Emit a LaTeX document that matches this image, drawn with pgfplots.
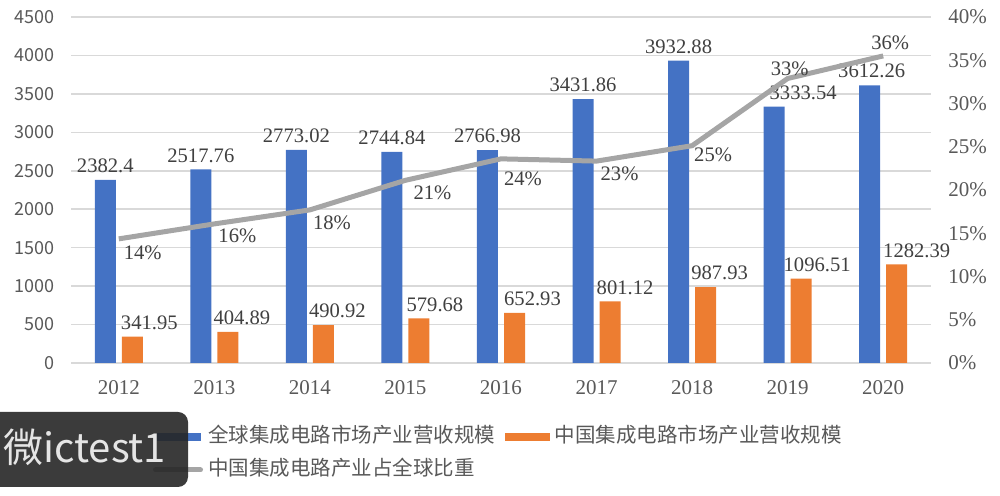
\documentclass[border=0pt]{standalone}
\usepackage{pgfplots}
\usepackage{pgfplotstable}
\pgfplotsset{compat=1.18}
\usepackage{fontspec}
\setmainfont{Liberation Serif}
\newfontfamily\cjk{Noto Sans CJK SC}
\definecolor{cblue}{HTML}{4472C4}
\definecolor{corange}{HTML}{ED7D31}
\definecolor{cgray}{HTML}{A5A5A5}
\definecolor{cgrid}{HTML}{D9D9D9}
\definecolor{ctick}{HTML}{595959}
\definecolor{clab}{HTML}{404040}

\pgfplotstableread{
x y lab dx
0 2382.4 2382.4 -6.75
1 2517.76 2517.76 -6.75
2 2773.02 2773.02 -6.75
3 2744.84 2744.84 -6.75
4 2766.98 2766.98 -6.75
5 3431.86 3431.86 -6.75
6 3932.88 3932.88 -6.75
7 3333.54 3333.54 7.75
8 3612.26 3612.26 -5.75
}\globaldata

\pgfplotstableread{
x y lab dx
0 341.95 341.95 15.25
1 404.89 404.89 13.75
2 490.92 490.92 13.75
3 579.68 579.68 14.75
4 652.93 652.93 15.75
5 801.12 801.12 14.25
6 987.93 987.93 13.75
7 1096.51 1096.51 14.75
8 1282.39 1282.39 16.75
}\chinadata

\pgfplotstableread{
x y lab dx dy
0 14.35 14\% 12 -7
1 16.08 16\% 11.5 -6
2 17.70 18\% 11 -6.5
3 21.12 21\% 13.5 -6
4 23.60 24\% 11 -10
5 23.34 23\% 11.5 -6.5
6 25.12 25\% 10.5 -4.5
7 32.89 33\% 1 5
8 35.50 36\% 3.5 6.5
}\sharedata

\begin{document}
\begin{tikzpicture}
\useasboundingbox (0,0) rectangle (500pt,248pt);
\begin{axis}[
  at={(35.5pt,66.5pt)}, anchor=south west,
  scale only axis, width=430pt, height=173pt,
  xmin=-0.5, xmax=8.5, ymin=0, ymax=4500,
  axis line style={draw=none},
  major tick length=0pt,
  ymajorgrids, grid style={cgrid, line width=0.75pt},
  ytick={0,500,1000,1500,2000,2500,3000,3500,4000,4500},
  yticklabels={0,500,1000,1500,2000,2500,3000,3500,4000,4500},
  yticklabel style={font=\cjk\fontsize{9}{10}\selectfont, text=ctick, inner sep=0pt, xshift=-8pt},
  xtick={0,1,2,3,4,5,6,7,8},
  xticklabels={2012,2013,2014,2015,2016,2017,2018,2019,2020},
  xticklabel style={font=\fontsize{10.5}{12}\selectfont, text=ctick, inner sep=0pt, yshift=-8.5pt},
  clip=false,
]
\addplot[ybar, bar width=10.5pt, bar shift=-6.75pt, fill=cblue, draw=none,
  nodes near coords, point meta=explicit symbolic,
  visualization depends on={\thisrow{dx} \as \dx},
  every node near coord/.append style={font=\fontsize{10.3}{12}\selectfont, text=clab, xshift=\dx pt}]
  table[x=x, y=y, meta=lab] {\globaldata};
\addplot[ybar, bar width=10.5pt, bar shift=6.75pt, fill=corange, draw=none,
  nodes near coords, point meta=explicit symbolic,
  visualization depends on={\thisrow{dx} \as \dx},
  every node near coord/.append style={font=\fontsize{10.3}{12}\selectfont, text=clab, xshift=\dx pt}]
  table[x=x, y=y, meta=lab] {\chinadata};
\end{axis}
\begin{axis}[
  at={(35.5pt,66.5pt)}, anchor=south west,
  scale only axis, width=430pt, height=173pt,
  xmin=-0.5, xmax=8.5, ymin=0, ymax=40,
  axis line style={draw=none},
  major tick length=0pt,
  xtick=\empty,
  ytick={0,5,10,15,20,25,30,35,40},
  yticklabels={0\%,5\%,10\%,15\%,20\%,25\%,30\%,35\%,40\%},
  yticklabel pos=right,
  yticklabel style={anchor=west, font=\fontsize{10.5}{12}\selectfont, text=ctick, inner sep=0pt, xshift=8.5pt},
  clip=false,
  legend columns=2,
  legend cell align=left,
  legend style={at={(0.09535,-0.18497)}, anchor=north west, draw=none, fill=none,
    inner sep=0pt, outer sep=0pt,
    font=\cjk\fontsize{10.25}{12}\selectfont, text=ctick, row sep=6.5pt,
    nodes={inner sep=0pt, text height=8pt, text depth=2pt},
    /tikz/every odd column/.append style={column sep=2.5pt},
    /tikz/every even column/.append style={column sep=5pt}},
]
\addlegendimage{legend image code/.code={\fill[cblue] (2pt,-1.9pt) rectangle (23.5pt,1.9pt);}}
\addlegendentry{全球集成电路市场产业营收规模}
\addlegendimage{legend image code/.code={\fill[corange] (0pt,-1.75pt) rectangle (22pt,1.75pt);}}
\addlegendentry{中国集成电路市场产业营收规模}
\addplot[cgray, line width=2.5pt, line join=round, mark=none,
  legend image code/.code={\draw[cgray, line width=2.5pt, line cap=round] (1.25pt,0pt) -- (23.75pt,0pt);},
  nodes near coords, point meta=explicit symbolic,
  nodes near coords align={anchor=center},
  visualization depends on={\thisrow{dx} \as \dx},
  visualization depends on={\thisrow{dy} \as \dy},
  every node near coord/.append style={anchor=center, font=\fontsize{10.3}{12}\selectfont, text=clab, xshift=\dx pt, yshift=\dy pt}]
  table[x=x, y=y, meta=lab] {\sharedata};
\addlegendentry{中国集成电路产业占全球比重}
\end{axis}
\fill[fill=black!85, opacity=0.9, rounded corners=5pt] (-6pt,4.5pt) rectangle (94pt,42pt);
\node[anchor=base west, inner sep=0pt, text=white!90!black, font=\cjk\fontsize{20}{22}\selectfont] at (1.5pt,16.5pt) {微ictest1};
\end{tikzpicture}
\end{document}
